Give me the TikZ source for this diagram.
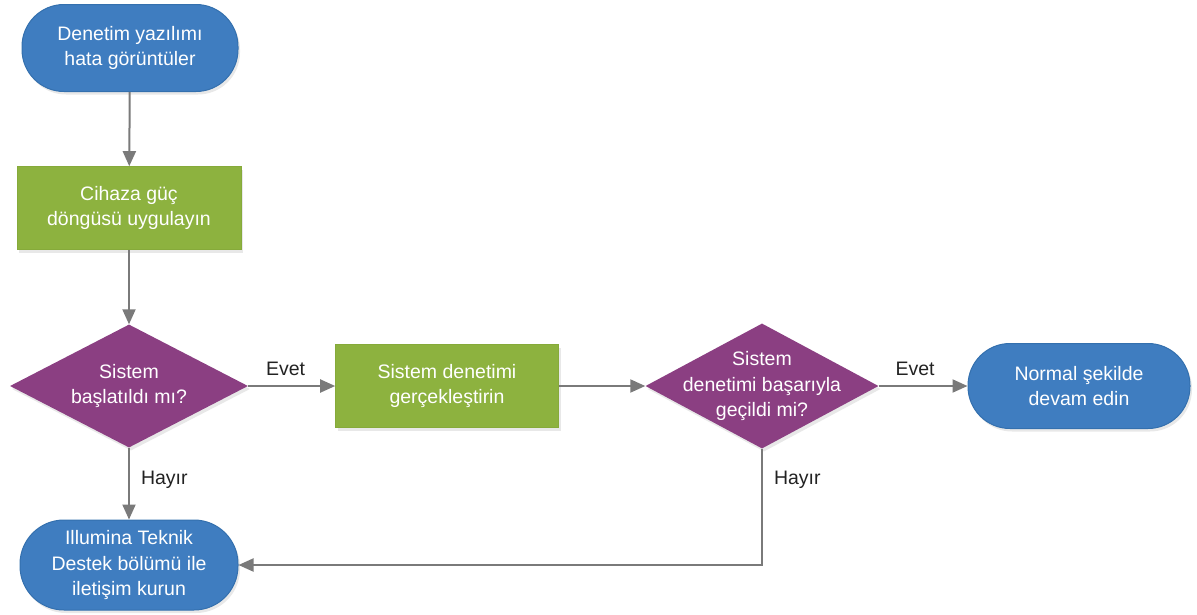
\documentclass[tikz,border=0pt]{standalone}
\usepackage{fontspec}
\setmainfont{Liberation Sans}
\usetikzlibrary{shapes.geometric,arrows.meta,shadows}
\definecolor{tblue}{HTML}{3F7DC0}
\definecolor{tblueb}{HTML}{3470AE}
\definecolor{tgreen}{HTML}{8DB23F}
\definecolor{tgreenb}{HTML}{86AA3A}
\definecolor{tpurple}{HTML}{8B3F82}
\definecolor{tgray}{HTML}{7A7A7A}
\definecolor{tlabel}{HTML}{222222}
\tikzset{
  txt/.style={font=\fontsize{19.5}{25.5}\selectfont, text=white, align=center, inner sep=0pt},
  base/.style={txt, drop shadow={opacity=0.18, shadow xshift=2pt, shadow yshift=-3pt}},
  term/.style={base, fill=tblue, draw=tblueb, line width=1pt, rounded corners=42pt},
  procbox/.style={base, fill=tgreen, draw=tgreenb, line width=0.6pt},
  decis/.style={base, diamond, fill=tpurple, draw=none, aspect=1.9},
  conn/.style={draw=tgray, line width=2pt, -{Triangle[length=15pt,width=13pt]}},
  lbl/.style={font=\fontsize{19.5}{25}\selectfont, text=tlabel, inner sep=0pt}
}
\begin{document}
\begin{tikzpicture}[x=1pt,y=-1pt]
\useasboundingbox (0,0) rectangle (1197,614);
\node[term, minimum width=216pt, minimum height=87pt] (start) at (130,48) {Denetim yazılımı\\hata görüntüler};
\node[procbox, minimum width=224pt, minimum height=83pt] (r1) at (129,208) {Cihaza güç\\döngüsü uygulayın};
\node[decis, minimum width=238pt, minimum height=123pt,
  label={[txt]center:Sistem\\başlatıldı mı?}] (d1) at (129,386) {};
\node[procbox, minimum width=223pt, minimum height=83pt] (r2) at (447,386) {Sistem denetimi\\gerçekleştirin};
\node[decis, minimum width=233pt, minimum height=125pt,
  label={[txt]center:Sistem\\denetimi başarıyla\\geçildi mi?}] (d2) at (762,386) {};
\node[term, minimum width=222pt, minimum height=85pt] (t2) at (1079,386) {Normal şekilde\\devam edin};
\node[term, minimum width=218pt, minimum height=90pt, rounded corners=44pt] (t3) at (129,565) {Illumina Teknik\\Destek bölümü ile\\iletişim kurun};

\draw[conn] (start) -- (r1);
\draw[conn] (r1) -- (d1);
\draw[conn] (d1.east) -- node[lbl, above=9pt, pos=0.43] {Evet} (r2.west);
\draw[conn] (r2.east) -- (d2.west);
\draw[conn] (d2.east) -- node[lbl, above=9pt, pos=0.41] {Evet} (t2.west);
\draw[conn] (d1.south) -- node[lbl, right=11pt, pos=0.45] {Hayır} (t3.north);
\coordinate (bend) at (d2.south |- t3.east);
\draw[conn] (d2.south) -- node[lbl, right=11pt, pos=0.27] {Hayır} (bend) -- (t3.east);
\end{tikzpicture}
\end{document}
